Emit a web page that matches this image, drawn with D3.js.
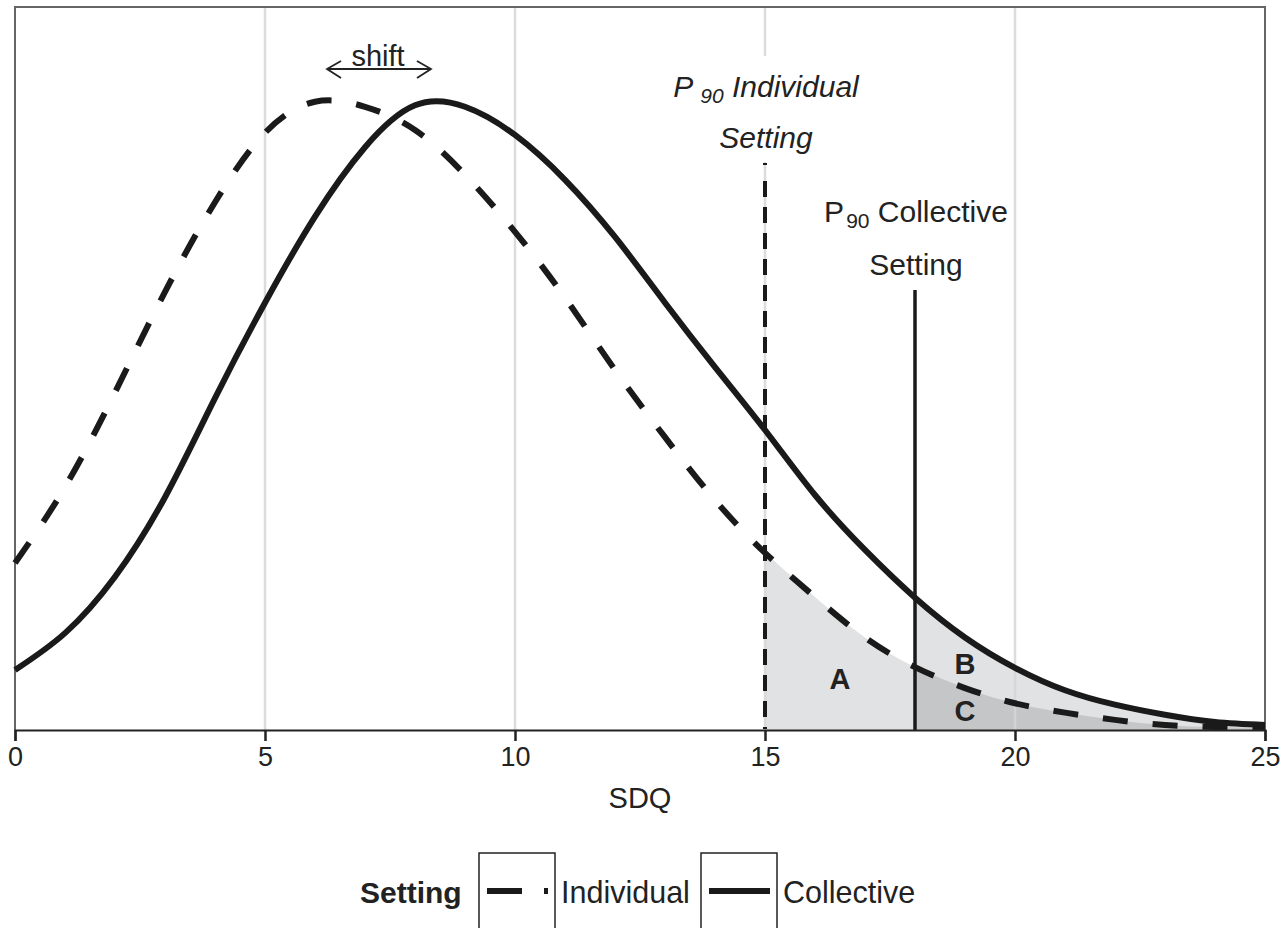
<!DOCTYPE html>
<html>
<head>
<meta charset="utf-8">
<script src="https://cdn.jsdelivr.net/npm/d3@7"></script>
<style>
  body { margin: 0; background: #fff; }
  svg { display: block; font-family: "Liberation Sans", Arial, Helvetica, sans-serif; }
</style>
</head>
<body>
<svg width="1287" height="928"></svg>
<script>
// SDQ values (x)
var sdq = [0, 1, 2, 3, 4, 5, 6, 7, 8, 9, 10, 11, 12, 13, 14, 15, 16, 17, 18, 19, 20, 21, 22, 23, 24, 25];
// density, individual setting (dashed)
var individual = [0.0231, 0.0336, 0.0467, 0.0606, 0.0730, 0.0826, 0.0869, 0.0862, 0.0830, 0.0768,
                  0.0689, 0.0598, 0.0498, 0.0405, 0.0318, 0.0245, 0.0184, 0.0128, 0.0087, 0.0058,
                  0.0037, 0.0024, 0.0014, 0.0007, 0.0004, 0.0003];
// density, collective setting (solid)
var collective = [0.0083, 0.0134, 0.0212, 0.0322, 0.0459, 0.0591, 0.0710, 0.0806, 0.0864, 0.0862,
                  0.0823, 0.0761, 0.0682, 0.0591, 0.0502, 0.0415, 0.0325, 0.0249, 0.0183, 0.0128,
                  0.0086, 0.0055, 0.0035, 0.0021, 0.0011, 0.0007];
var xTicks = [0, 5, 10, 15, 20, 25];
var gridX = [5, 10, 15, 20];
var p90Individual = 15,
    p90Collective = 18;

var svg = d3.select('svg');

var x = d3.scaleLinear().domain([0, 25]).range([15, 1265]),
    y = d3.scaleLinear().domain([0, 0.1]).range([730, 7]);

var indData = sdq.map(function (d, i) { return { x: d, y: individual[i] }; }),
    colData = sdq.map(function (d, i) { return { x: d, y: collective[i] }; });

var curve = d3.curveNatural;

var line = d3.line()
    .x(function (d) { return x(d.x); })
    .y(function (d) { return y(d.y); })
    .curve(curve);

var area = d3.area()
    .x(function (d) { return x(d.x); })
    .y0(y(0))
    .y1(function (d) { return y(d.y); })
    .curve(curve);

// tail areas: A (individual beyond its P90), B (collective beyond its P90), C = overlap
svg.append('path')
    .datum(indData.filter(function (d) { return d.x >= p90Individual; }))
    .attr('d', area)
    .attr('fill', '#e1e2e4');
svg.append('path')
    .datum(colData.filter(function (d) { return d.x >= p90Collective; }))
    .attr('d', area)
    .attr('fill', '#e1e2e4');
svg.append('path')
    .datum(indData.filter(function (d) { return d.x >= p90Collective; }))
    .attr('d', area)
    .attr('fill', '#c5c6c8');

// vertical grid lines
svg.append('g').selectAll('line')
    .data(gridX)
    .enter().append('line')
    .attr('x1', x).attr('x2', x)
    .attr('y1', 7).attr('y2', 730)
    .attr('stroke', '#d6d6d6')
    .attr('stroke-width', 2.5)
    .attr('opacity', 0.85);

// panel frame
svg.append('path')
    .attr('d', 'M' + x(0) + ',' + y(0) + 'V7H' + x(25) + 'V' + y(0))
    .attr('fill', 'none')
    .attr('stroke', '#666')
    .attr('stroke-width', 2);

// white box behind the individual label (hides grid line)
svg.append('rect')
    .attr('x', 660).attr('y', 56)
    .attr('width', 212).attr('height', 106)
    .attr('fill', '#fff');

// P90 markers
svg.append('line')
    .attr('x1', x(p90Individual)).attr('x2', x(p90Individual))
    .attr('y1', 163).attr('y2', y(0))
    .attr('stroke', '#1a1a1a')
    .attr('stroke-width', 4)
    .attr('stroke-dasharray', '2,16,16,10,16,10,16,10,16,10,16,10,16,10,16,10,16,10,16,10,16,10,16,10,16,10,16,10,16,10,16,10,16,10,16,10,16,10,16,10,16,10,16,10');
svg.append('line')
    .attr('x1', x(p90Collective)).attr('x2', x(p90Collective))
    .attr('y1', 290).attr('y2', y(0))
    .attr('stroke', '#1a1a1a')
    .attr('stroke-width', 3.5);

// density curves
svg.append('path')
    .datum(indData)
    .attr('d', line)
    .attr('fill', 'none')
    .attr('stroke', '#1a1a1a')
    .attr('stroke-width', 6)
    .attr('stroke-dasharray', '25,25');
svg.append('path')
    .datum(colData)
    .attr('d', line)
    .attr('fill', 'none')
    .attr('stroke', '#1a1a1a')
    .attr('stroke-width', 6);

// x axis
var xAxis = d3.axisBottom(x).tickValues(xTicks).tickSize(11).tickPadding(6);
var ax = svg.append('g')
    .attr('transform', 'translate(0,' + y(0) + ')')
    .call(xAxis);
ax.select('.domain').attr('stroke', '#222').attr('stroke-width', 2);
ax.selectAll('.tick line').attr('stroke', '#222').attr('stroke-width', 2.5);
ax.selectAll('.tick text')
    .attr('font-size', 27)
    .attr('fill', '#222')
    .attr('font-family', '"Liberation Sans", Arial, sans-serif');

svg.append('text')
    .attr('x', 640).attr('y', 808)
    .attr('text-anchor', 'middle')
    .attr('font-size', 29)
    .attr('fill', '#222')
    .text('SDQ');

// shift annotation
svg.append('text')
    .attr('x', 378).attr('y', 66)
    .attr('text-anchor', 'middle')
    .attr('font-size', 29)
    .attr('fill', '#222')
    .text('shift');
svg.append('path')
    .attr('d', 'M327,69H431M341,61L327,69L341,78M417,61L431,69L417,78')
    .attr('fill', 'none')
    .attr('stroke', '#222')
    .attr('stroke-width', 1.8);

// P90 labels
function p90Label(cx, y1, y2, rest, italic) {
    var t = svg.append('text')
        .attr('x', cx).attr('y', y1)
        .attr('text-anchor', 'middle')
        .attr('font-size', 30)
        .attr('fill', '#222')
        .attr('font-style', italic ? 'italic' : 'normal');
    t.append('tspan').text('P');
    t.append('tspan').attr('font-size', 21).attr('dy', 6).attr('dx', italic ? 7 : 2).text('90');
    t.append('tspan').attr('dy', -6).text(' ' + rest);
    svg.append('text')
        .attr('x', cx).attr('y', y2)
        .attr('text-anchor', 'middle')
        .attr('font-size', 30)
        .attr('fill', '#222')
        .attr('font-style', italic ? 'italic' : 'normal')
        .text('Setting');
}
p90Label(766, 97, 148, 'Individual', true);
p90Label(916, 222, 275, 'Collective', false);

// area letters
[['A', 840, 689], ['B', 965, 674], ['C', 965, 721]].forEach(function (d) {
    svg.append('text')
        .attr('x', d[1]).attr('y', d[2])
        .attr('text-anchor', 'middle')
        .attr('font-size', 29)
        .attr('font-weight', 'bold')
        .attr('fill', '#222')
        .text(d[0]);
});

// legend
var legend = svg.append('g');
legend.append('text')
    .attr('x', 360).attr('y', 903)
    .attr('font-size', 30)
    .attr('font-weight', 'bold')
    .attr('fill', '#222')
    .text('Setting');
var keys = [
    { label: 'Individual', x: 479, dash: '35,22' },
    { label: 'Collective', x: 701, dash: null }
];
keys.forEach(function (k) {
    legend.append('rect')
        .attr('x', k.x).attr('y', 853)
        .attr('width', 76).attr('height', 90)
        .attr('fill', '#fff')
        .attr('stroke', '#222')
        .attr('stroke-width', 1.5);
    legend.append('line')
        .attr('x1', k.x + 8).attr('x2', k.x + 69)
        .attr('y1', 891).attr('y2', 891)
        .attr('stroke', '#1a1a1a')
        .attr('stroke-width', 6)
        .attr('stroke-dasharray', k.dash);
    legend.append('text')
        .attr('x', k.x + 82).attr('y', 903)
        .attr('font-size', 30.5)
        .attr('fill', '#222')
        .text(k.label);
});
</script>
</body>
</html>
